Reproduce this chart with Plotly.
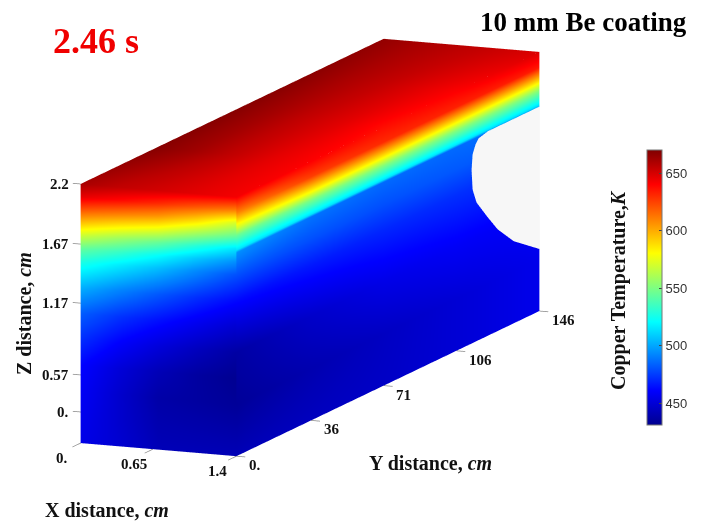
import plotly.graph_objects as go

# Axis grids
x_cm = [0, 0.35, 0.7, 1.05, 1.4]
y_cm = [0, 36, 71, 106, 146]
# z is stored as fraction of the drawn height, since the source's z-ticks are not evenly spaced
z_frac = [0, 0.1, 0.2, 0.3, 0.4, 0.5, 0.6, 0.7, 0.75, 0.8, 0.85, 0.9, 0.95, 1]

# Front face (y = 0): rows follow z_frac, columns follow x_cm
front_T = [
    [455, 449, 442, 442, 442],
    [457, 448, 440, 439, 438],
    [459, 448, 438, 436, 434],
    [462, 451, 442, 436, 432],
    [472, 461, 452, 444, 437],
    [483, 473, 465, 457, 449],
    [503, 492, 482, 472, 463],
    [528, 517, 506, 493, 480],
    [544, 534, 522, 508, 495],
    [568, 556, 545, 530, 515],
    [594, 584, 575, 560, 545],
    [620, 612, 604, 590, 570],
    [645, 638, 630, 620, 610],
    [660, 654, 650, 646, 642],
]

# Right face (x = 1.4): rows follow right_z, columns follow y_cm
right_z = [0, 0.2, 0.4, 0.6, 0.7, 0.785, 0.795, 0.85, 0.88, 0.94, 1]
right_T = [
    [442, 444, 446, 450, 456],
    [434, 440, 445, 450, 456],
    [437, 447, 455, 459, 460],
    [463, 467, 470, 472, 474],
    [480, 480, 480, 482, 484],
    [495, 488, 486, 486, 490],
    [515, 515, 515, 515, 515],
    [545, 550, 552, 552, 552],
    [570, 578, 580, 580, 580],
    [610, 625, 630, 632, 634],
    [642, 640, 637, 640, 648],
]

# Top face: rows follow y_cm, columns follow x_cm
top_T = [
    [660, 654, 650, 646, 642],
    [668, 662, 654, 646, 640],
    [668, 661, 653, 646, 637],
    [667, 660, 654, 647, 640],
    [665, 660, 656, 652, 648],
]

# Empty coolant channel outline on the right face
hole_y = [146, 121, 116.5, 115, 113.6, 113.1, 113.6, 115.5, 120.9, 125.7, 133.4, 146]
hole_z = [0.79, 0.79, 0.78, 0.762, 0.729, 0.671, 0.593, 0.536, 0.458, 0.393, 0.318, 0.239]

# Tick labels and their locations
x_ticks = [0, 0.65, 1.4]
x_labels = ["0.", "0.65", "1.4"]
y_ticks = [0, 36, 71, 106, 146]
y_labels = ["0.", "36", "71", "106", "146"]
z_ticks = [0.12, 0.263, 0.54, 0.768, 1.0]
z_labels = ["0.", "0.57", "1.17", "1.67", "2.2"]
cbar_ticks = [450, 500, 550, 600, 650]

T_MIN, T_MAX = 431, 670
JET = [[0, "rgb(0,0,143)"], [0.125, "rgb(0,0,255)"], [0.375, "rgb(0,255,255)"],
       [0.625, "rgb(255,255,0)"], [0.875, "rgb(255,0,0)"], [1, "rgb(128,0,0)"]]
FLAT = dict(ambient=1, diffuse=0, specular=0, roughness=1, fresnel=0)
SERIF = "Liberation Serif"
X_END, Y_END = x_cm[-1], y_cm[-1]

def face(xs, ys, zs, T, bar=False):
    return go.Surface(x=xs, y=ys, z=zs, surfacecolor=T, cmin=T_MIN, cmax=T_MAX, colorscale=JET,
                      lighting=FLAT, hoverinfo="skip", showscale=bar,
                      colorbar=dict(x=647/704, xanchor="left", y=1-150/521, yanchor="top",
                                    lenmode="pixels", len=275, thicknessmode="pixels", thickness=15,
                                    tickvals=cbar_ticks, ticks="inside", ticklen=3, tickcolor="#444",
                                    outlinecolor="#777", outlinewidth=1, xpad=0, ypad=0,
                                    tickfont=dict(family="Liberation Sans", size=13, color="#333")))

fig = go.Figure()
fig.add_trace(face([x_cm for _ in z_frac], [[0]*len(x_cm) for _ in z_frac],
                   [[f]*len(x_cm) for f in z_frac], front_T, bar=True))
fig.add_trace(face([[X_END]*len(y_cm) for _ in right_z], [y_cm for _ in right_z],
                   [[f]*len(y_cm) for f in right_z], right_T))
fig.add_trace(face([x_cm for _ in y_cm], [[v]*len(x_cm) for v in y_cm],
                   [[1]*len(x_cm) for _ in y_cm], top_T))

# Channel opening, as a fan from the outer edge
n = len(hole_y)
fig.add_trace(go.Mesh3d(x=[X_END + 0.004]*n, y=hole_y, z=hole_z,
                        i=[0]*(n-2), j=list(range(1, n-1)), k=list(range(2, n)),
                        color="#f7f7f7", lighting=FLAT, flatshading=True, hoverinfo="skip"))

def ticks(pts_a, pts_b):
    xs, ys, zs = [], [], []
    for a, b in zip(pts_a, pts_b):
        xs += [a[0], b[0], None]; ys += [a[1], b[1], None]; zs += [a[2], b[2], None]
    fig.add_trace(go.Scatter3d(x=xs, y=ys, z=zs, mode="lines", showlegend=False, hoverinfo="skip",
                               line=dict(color="#8a8a8a", width=1.5)))

ticks([(t, 0, 0) for t in x_ticks], [(t, -4, 0) for t in x_ticks])
ticks([(X_END, t, 0) for t in y_ticks], [(X_END + 0.08, t, 0) for t in y_ticks])
ticks([(0, 0, t) for t in z_ticks], [(-0.07, 0, t) for t in z_ticks])

tf = dict(family=SERIF, size=15, color="#111")
scene_notes = []
for t, s in zip(x_ticks, x_labels):
    scene_notes.append(dict(x=t, y=0, z=0, text=f"<b>{s}</b>", showarrow=False, font=tf, xshift=-19, yshift=-15))
for t, s in zip(y_ticks, y_labels):
    scene_notes.append(dict(x=X_END, y=t, z=0, text=f"<b>{s}</b>", showarrow=False, font=tf,
                            xanchor="left", xshift=11, yshift=-9))
for t, s in zip(z_ticks, z_labels):
    scene_notes.append(dict(x=0, y=0, z=t, text=f"<b>{s}</b>", showarrow=False, font=tf, xanchor="right", xshift=-10))

def note(px, py, text, size=15, color="#111", angle=0, anchor="center"):
    return dict(x=px/704, y=1-py/521, xref="paper", yref="paper", text=text, showarrow=False,
                textangle=angle, xanchor=anchor, yanchor="middle",
                font=dict(family=SERIF, size=size, color=color))

EYE = 2.2
fig.update_layout(
    width=704, height=521, margin=dict(l=0, r=0, t=0, b=0), paper_bgcolor="white",
    showlegend=False,
    scene=dict(
        domain=dict(x=[0, 0.88], y=[0.05, 1]),
        xaxis=dict(visible=False, range=[-0.1, 1.5]),
        yaxis=dict(visible=False, range=[-10, 156]),
        zaxis=dict(visible=False, range=[-0.01, 1.01]),
        aspectmode="manual",
        aspectratio=dict(x=0.78, y=3.6, z=1.09),
        camera=dict(projection=dict(type="orthographic"),
                    eye=dict(x=0.379*EYE, y=-0.904*EYE, z=0.201*EYE),
                    center=dict(x=0, y=0, z=0), up=dict(x=0, y=0, z=1)),
        annotations=scene_notes,
    ),
    annotations=[
        note(96, 41, "<b>2.46 s</b>", size=36, color="#f00000"),
        note(583, 22, "<b>10 mm Be coating</b>", size=27, color="#000"),
        note(107, 510, "<b>X distance, <i>cm</i></b>", size=20),
        note(430, 463, "<b>Y distance, <i>cm</i></b>", size=20),
        note(24, 314, "<b>Z distance, <i>cm</i></b>", size=20, angle=-90),
        note(618, 290, "<b>Copper Temperature,<i>K</i></b>", size=20, angle=-90),
    ],
)
fig.write_html("out.html", config=dict(displayModeBar=False),
               post_script="document.body.style.margin='0';document.documentElement.style.overflow='hidden';")
